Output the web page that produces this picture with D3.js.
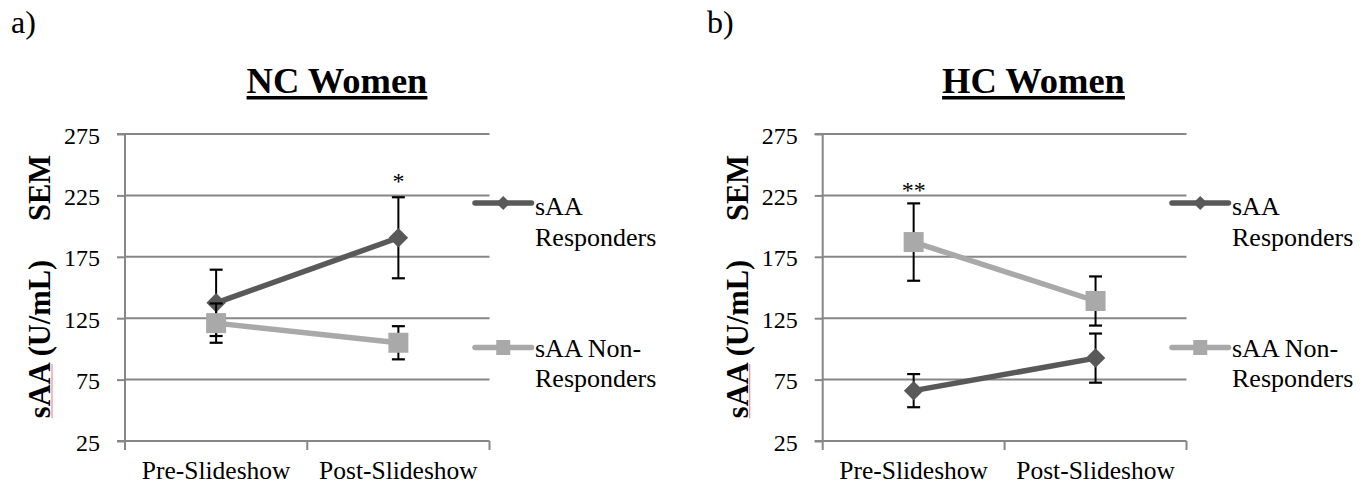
<!DOCTYPE html>
<html>
<head>
<meta charset="utf-8">
<script src="https://cdn.jsdelivr.net/npm/d3@7"></script>
<style>
  html, body { margin: 0; padding: 0; background: #fff; }
  svg { display: block; }
  text { font-family: "Liberation Serif", "Times New Roman", serif; fill: #000; }
</style>
</head>
<body>
<svg id="chart" width="1371" height="487"></svg>
<script>
// ---------- data ----------
const categories = ["Pre-Slideshow", "Post-Slideshow"];
const yTicks = [25, 75, 125, 175, 225, 275];
const seriesLegend = [["sAA", "Responders"], ["sAA Non-", "Responders"]];
const panelLabels = ["a)", "b)"];
const panelTitles = ["NC Women", "HC Women"];

const ncResponders = [137.5, 190.5];
const ncRespondersSEM = [27, 33];
const ncNonResponders = [121, 105];
const ncNonRespondersSEM = [16, 13.5];

const hcResponders = [66, 92.5];
const hcRespondersSEM = [13.5, 20];
const hcNonResponders = [187, 139];
const hcNonRespondersSEM = [31.5, 20];

// significance annotations: [category index, label, value position]
const ncSignificance = [1, "*", 230];
const hcSignificance = [0, "**", 223];

// ---------- styles ----------
const darkColor = "#595959";
const lightColor = "#a9a9a9";
const gridColor = "#878787";

const svg = d3.select("#chart");

const panels = [
  { left: 125, right: 489.5, label: panelLabels[0], labelX: 11, title: panelTitles[0], titleX: 337,
    series: [
      { values: ncResponders, sem: ncRespondersSEM, color: darkColor, marker: "diamond" },
      { values: ncNonResponders, sem: ncNonRespondersSEM, color: lightColor, marker: "square" }
    ], sig: ncSignificance },
  { left: 822.7, right: 1186.5, label: panelLabels[1], labelX: 707, title: panelTitles[1], titleX: 1033.5,
    series: [
      { values: hcResponders, sem: hcRespondersSEM, color: darkColor, marker: "diamond" },
      { values: hcNonResponders, sem: hcNonRespondersSEM, color: lightColor, marker: "square" }
    ], sig: hcSignificance }
];

const plotTop = 134, plotBottom = 441;

panels.forEach(p => {
  const g = svg.append("g");
  const x = d3.scaleBand().domain(categories).range([p.left, p.right]).padding(0);
  const y = d3.scaleLinear().domain([25, 275]).range([plotBottom, plotTop]);
  const cx = c => x(c) + x.bandwidth() / 2;

  // panel label
  g.append("text").attr("x", p.labelX).attr("y", 33).attr("font-size", 32).text(p.label);

  // title with underline
  const t = g.append("text").attr("x", p.titleX).attr("y", 92.5).attr("text-anchor", "middle")
    .attr("font-size", 36.5).attr("font-weight", "bold").text(p.title);
  const tw = t.node().getComputedTextLength();
  g.append("rect").attr("x", p.titleX - tw / 2).attr("y", 96).attr("width", tw).attr("height", 3.5).attr("fill", "#000");

  // gridlines
  g.append("g").selectAll("line").data(yTicks).join("line")
    .attr("x1", p.left).attr("x2", p.right)
    .attr("y1", d => y(d)).attr("y2", d => y(d))
    .attr("stroke", gridColor).attr("stroke-width", 2);

  // y axis
  const ya = g.append("g").attr("transform", `translate(${p.left},0)`)
    .call(d3.axisLeft(y).tickValues(yTicks).tickSize(8).tickPadding(17).tickFormat(d3.format("d")));
  ya.select(".domain").attr("stroke", gridColor).attr("stroke-width", 2).attr("d", `M-8,${plotTop}H0V${plotBottom}H-8`);
  ya.selectAll(".tick line").attr("stroke", gridColor).attr("stroke-width", 2);
  ya.selectAll(".tick text").attr("font-size", 24).attr("font-family", "Liberation Serif").attr("fill", "#000").attr("dy", "0.38em");

  // x axis
  const xa = g.append("g").attr("transform", `translate(0,${plotBottom})`)
    .call(d3.axisBottom(x).tickSize(0).tickPadding(0));
  xa.select(".domain").remove();
  xa.selectAll(".tick text").attr("font-size", 25.5).attr("font-family", "Liberation Serif").attr("fill", "#000")
    .attr("dy", null).attr("y", 38);
  const bounds = [p.left, ...categories.map(c => x(c) + x.bandwidth())];
  g.append("g").selectAll("line").data(bounds).join("line")
    .attr("x1", d => d).attr("x2", d => d).attr("y1", plotBottom).attr("y2", plotBottom + 9)
    .attr("stroke", gridColor).attr("stroke-width", 2);

  // y axis title (two parts)
  const ttl = g.append("text").attr("transform", `translate(${p.left - 75},339) rotate(-90)`)
    .attr("text-anchor", "middle").attr("font-size", 30.5).attr("font-weight", "bold").text("sAA (U/mL)");
  g.append("text").attr("transform", `translate(${p.left - 75},188) rotate(-90)`)
    .attr("text-anchor", "middle").attr("font-size", 30.5).attr("font-weight", "bold").text("SEM");
  // spell-check squiggle under "sAA"
  const full = ttl.node().getComputedTextLength();
  const sw = ttl.node().getSubStringLength(0, 3);
  g.append("line").attr("x1", p.left - 75 + 2).attr("x2", p.left - 75 + 2)
    .attr("y1", 339 + full / 2).attr("y2", 339 + full / 2 - sw)
    .attr("stroke", "#f08c8c").attr("stroke-width", 1.2);

  // series
  p.series.forEach(s => {
    const pts = categories.map((c, i) => ({ c, v: s.values[i], e: s.sem[i] }));
    // error bars
    const eb = g.append("g");
    pts.forEach(d => {
      const xx = cx(d.c);
      eb.append("line").attr("x1", xx).attr("x2", xx).attr("y1", y(d.v + d.e)).attr("y2", y(d.v - d.e))
        .attr("stroke", "#000").attr("stroke-width", 2);
      [d.v + d.e, d.v - d.e].forEach(v => {
        eb.append("line").attr("x1", xx - 6.5).attr("x2", xx + 6.5).attr("y1", y(v)).attr("y2", y(v))
          .attr("stroke", "#000").attr("stroke-width", 2.2);
      });
    });
    // line
    g.append("path").datum(pts)
      .attr("d", d3.line().x(d => cx(d.c)).y(d => y(d.v)))
      .attr("fill", "none").attr("stroke", s.color).attr("stroke-width", 5.5).attr("stroke-linecap", "round");
    // markers
    if (s.marker === "diamond") {
      g.append("g").selectAll("path").data(pts).join("path")
        .attr("d", d3.symbol().type(d3.symbolSquare).size(190))
        .attr("transform", d => `translate(${cx(d.c)},${y(d.v)}) rotate(45)`)
        .attr("fill", s.color);
    } else {
      g.append("g").selectAll("rect").data(pts).join("rect")
        .attr("x", d => cx(d.c) - 10).attr("y", d => y(d.v) - 10)
        .attr("width", 20).attr("height", 20).attr("fill", s.color);
    }
  });

  // significance
  g.append("text").attr("x", cx(categories[p.sig[0]])).attr("y", y(p.sig[2]))
    .attr("text-anchor", "middle").attr("font-size", 24).text(p.sig[1]);

  // legend
  const legendYs = [203, 347.5];
  const textYs = [[214.5, 245.5], [356.5, 386.5]];
  p.series.forEach((s, i) => {
    const lx0 = p.right - 14.5, lx1 = p.right + 42;
    const ly = legendYs[i];
    g.append("line").attr("x1", lx0).attr("x2", lx1).attr("y1", ly).attr("y2", ly)
      .attr("stroke", s.color).attr("stroke-width", 5.5).attr("stroke-linecap", "round");
    const mx = (lx0 + lx1) / 2;
    if (s.marker === "diamond") {
      g.append("path").attr("d", d3.symbol().type(d3.symbolSquare).size(100))
        .attr("transform", `translate(${mx},${ly}) rotate(45)`).attr("fill", s.color);
    } else {
      g.append("rect").attr("x", mx - 7).attr("y", ly - 7.5).attr("width", 14).attr("height", 15).attr("fill", s.color);
    }
    seriesLegend[i].forEach((line, j) => {
      g.append("text").attr("x", p.right + 45.5).attr("y", textYs[i][j]).attr("font-size", 26).text(line);
    });
  });
});
</script>
</body>
</html>
